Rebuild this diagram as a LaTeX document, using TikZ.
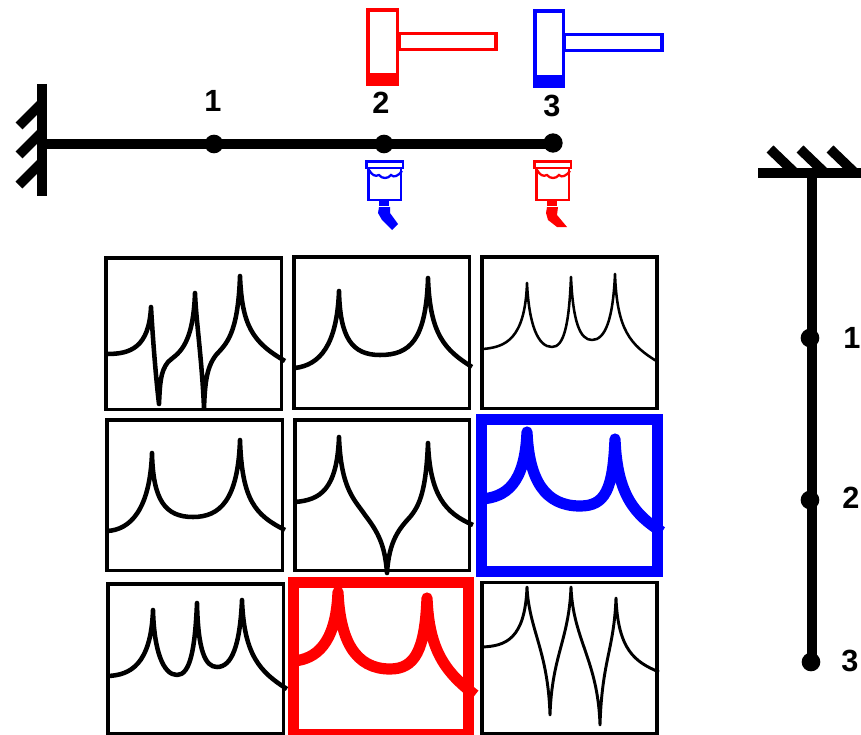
\documentclass[tikz,border=0pt]{standalone}
\usepackage{fontspec}
\setmainfont{Liberation Sans}
\definecolor{pblue}{RGB}{0,0,255}
\definecolor{pred}{RGB}{255,0,0}
\tikzset{
  beam/.style={line width=7.9pt,black},
  hatch/.style={line width=7.4pt,black},
  dotn/.style={circle,fill=black,inner sep=0pt,minimum size=14pt},
  lab/.style={font=\fontsize{23}{23}\selectfont\bfseries,inner sep=0pt},
  panel/.style={draw=black,line width=2.3pt},
  hot/.style={line width=8.25pt},
  resp/.style={line cap=butt,line join=round,line width=#1},
  hammer/.style={line width=2.6pt},
  sens/.style={line width=2.2pt},
}
\begin{document}
\begin{tikzpicture}[x=0.75pt,y=-0.75pt]
\useasboundingbox (0,0) rectangle (861,735);
\begin{scope}
\clip (0,0) rectangle (861,735);
% horizontal beam
\draw[beam] (42,84) -- (42,196);
\foreach \yy in {103,132,162}{\draw[hatch] (42,\yy) -- (19,\yy+23);}
\node[dotn] (h1) at (214,144) {};
\node[dotn] (h2) at (384,144) {};
\node[dotn,minimum size=14.5pt] (h3) at (553,143) {};
\coordinate (wall) at (42,144);
\draw[beam] (wall) -- (h1.center) -- (h2.center) -- (553,144);
\node[lab] (l1) at (213,101) {1};
\node[lab] (l2) at (381,103) {2};
\node[lab] (l3) at (552,106) {3};
% vertical beam
\draw[beam] (758,173) -- (861,173);
\foreach \xx in {770,800,830}{\draw[hatch] (\xx,149) -- (\xx+25,173);}
\node[dotn] (v1) at (810,338) {};
\node[dotn] (v2) at (810,500) {};
\node[dotn] (v3) at (811,662) {};
\coordinate (top) at (812,173);
\draw[beam] (top) -- (812,662);
\node[lab] (r1) at (852,338) {1};
\node[lab] (r2) at (851,498) {2};
\node[lab] (r3) at (850,661) {3};
% hammers
\draw[hammer,pred,fill=white] (399,33.5) rectangle (496,49.5);
\draw[hammer,pred,fill=white] (368,10) rectangle (397.5,84);
\fill[pred] (366,73) rectangle (399,86);
\draw[hammer,pblue,fill=white] (564,34.5) rectangle (662,50.5);
\draw[hammer,pblue,fill=white] (535,11) rectangle (563.5,86);
\fill[pblue] (533,75) rectangle (565,88);
% sensors
\foreach \dx/\cc in {0/pblue,168/pred}{
  \begin{scope}[xshift=\dx*0.75pt]
  \draw[sens,\cc] (366.5,161.5) rectangle (403,168);
  \draw[sens,\cc] (368.5,168) rectangle (401,200);
  \draw[line width=1.7pt,\cc] (369,170) .. controls (372,175) and (375,177) .. (379,175) .. controls (382,179) and (388,179) .. (391,175) .. controls (394,178) and (398,176) .. (402,171);
  \fill[\cc] (379,201) rectangle (389,206);
  \end{scope}
}
\fill[pblue] (379,207) -- (390,207) -- (390,213) -- (398,224) -- (392,230) -- (382,220) -- (378,213) -- cycle;
\fill[pred] (547,207) -- (558,207) -- (557,215) -- (567,227) -- (557,227) -- (548,220) -- (546,213) -- cycle;
% panel 1
\draw[panel] (106,258) rectangle (281.5,409.5);
\draw[resp=3.4pt] (107,354) .. controls (130,354) and (149,348) .. (151,307) .. controls (152,325) and (155,370) .. (159,404) .. controls (160,385) and (160,372) .. (168,362) .. controls (176,354) and (193,350) .. (195,293) .. controls (196,320) and (202,360) .. (204,408) .. controls (205,385) and (206,368) .. (216,355) .. controls (226,344) and (238,335) .. (240,276) .. controls (242,325) and (252,342) .. (285,361);
% panel 2
\draw[panel] (294,257) rectangle (469.5,408.5);
\draw[resp=3.4pt] (295,368) .. controls (320,365) and (337,345) .. (339,291) .. controls (340,338) and (352,355) .. (380,355) .. controls (410,355) and (426,340) .. (428,278) .. controls (430,335) and (445,350) .. (472,367);
% panel 3
\draw[panel] (482,257) rectangle (657,408.5);
\draw[resp=1.9pt] (483,349) .. controls (505,347) and (525,340) .. (527,283) .. controls (529,325) and (538,347) .. (552,347) .. controls (564,347) and (569,325) .. (571,277) .. controls (573,322) and (580,340) .. (592,340) .. controls (605,340) and (613,320) .. (615,274) .. controls (617,330) and (630,345) .. (658,362);
% panel 4
\draw[panel] (107,420) rectangle (282.5,570.5);
\draw[resp=3.4pt] (107,531) .. controls (130,530) and (150,510) .. (152,453) .. controls (153,500) and (165,517) .. (193,517) .. controls (220,517) and (238,500) .. (240,440) .. controls (242,500) and (255,515) .. (285,530);
% panel 5
\draw[panel] (295,420) rectangle (469.5,570.5);
\draw[resp=3.4pt] (295,502) .. controls (320,500) and (337,490) .. (339,437) .. controls (341,490) and (355,500) .. (365,515) .. controls (378,532) and (385,545) .. (387,573) .. controls (389,540) and (400,528) .. (410,517) .. controls (420,505) and (426,490) .. (428,443) .. controls (430,495) and (445,513) .. (473,525);
% panel 6
\draw[hot,pblue] (481.5,419.5) rectangle (657.5,571.5);
\draw[resp=8.4pt,pblue] (482,499) .. controls (505,497) and (525,485) .. (527,432) .. controls (529,480) and (545,506) .. (580,506) .. controls (605,506) and (613,490) .. (615,439) .. controls (617,495) and (635,515) .. (662,532);
% panel 7
\draw[panel] (108,584) rectangle (283.5,734);
\draw[resp=3.4pt] (108,676) .. controls (130,675) and (151,665) .. (153,610) .. controls (154,650) and (163,675) .. (177,675) .. controls (190,675) and (195,650) .. (197,603) .. controls (198,650) and (205,667) .. (217,667) .. controls (232,667) and (240,645) .. (242,600) .. controls (244,655) and (260,672) .. (287,689);
% panel 8
\draw[hot,pred] (293.5,582.5) rectangle (468.5,734);
\draw[resp=8.4pt,pred] (294,661) .. controls (315,659) and (336,645) .. (338,592) .. controls (340,640) and (355,669) .. (390,669) .. controls (415,669) and (425,650) .. (427,598) .. controls (429,650) and (445,672) .. (475,695);
% panel 9
\draw[panel] (482,582.5) rectangle (657,733.5);
\draw[resp=2.2pt] (482,647) .. controls (505,646) and (525,640) .. (527,587) .. controls (529,630) and (548,650) .. (550,715) .. controls (552,655) and (569,640) .. (571,587) .. controls (573,640) and (598,660) .. (600,725) .. controls (602,660) and (614,650) .. (616,598) .. controls (618,650) and (635,662) .. (659,672);
\end{scope}
\end{tikzpicture}
\end{document}
